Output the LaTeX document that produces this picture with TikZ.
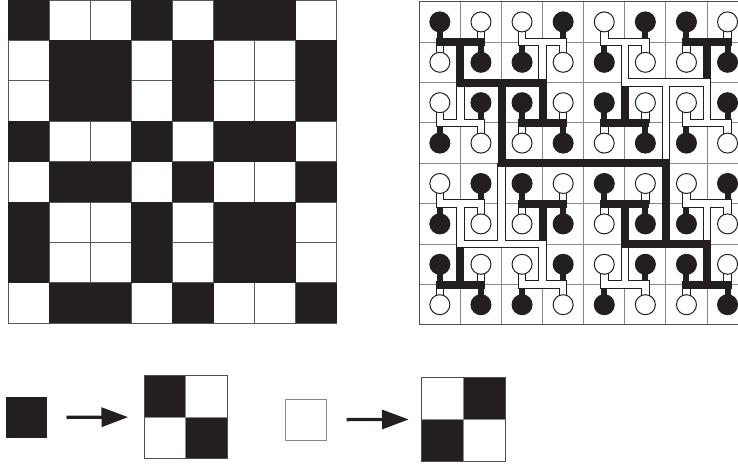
\documentclass[tikz,border=0pt]{standalone}
\usetikzlibrary{arrows.meta}
\definecolor{ink}{HTML}{231F20}
\definecolor{rule}{HTML}{8A8A8A}
\tikzset{
  cellline/.style={line width=0.9pt, ink!75},
  boardline/.style={line width=0.9pt, rule},
  wout/.style={line width=8.5pt, ink},
  wfill/.style={line width=6.5pt, white},
  bstem/.style={line width=6pt, ink, line cap=rect},
  bwire/.style={line width=8pt, ink, line cap=rect},
  tile/.style={minimum size=41pt, inner sep=0pt, line width=1pt},
  quad/.style={minimum size=83pt, inner sep=0pt},
  arr/.style={line width=3.3pt, ink, -{Triangle[length=26.6pt,width=19pt]}}
}
\begin{document}
\begin{tikzpicture}[x=1pt,y=-1pt]
\useasboundingbox (0,0) rectangle (738,463);
\clip (0,0) rectangle (738,463);

% left board
\begin{scope}[xshift=8pt, x=41.1pt, y=-40.4pt]
\foreach \i in {0,...,8} {
  \draw[cellline] (\i,0) -- (\i,8);
  \draw[cellline] (0,\i) -- (8,\i);
}
\foreach \r in {0,...,7} \foreach \c in {0,...,7} {
  \pgfmathtruncatemacro\k{mod(\r+floor(\r/2)+floor(\r/4)+\c+floor(\c/2)+floor(\c/4),2)}
  \ifnum\k=0 \fill[ink] (\c,\r) rectangle ++(1,1); \fi
}
\end{scope}

% right board with the wires
\begin{scope}[xshift=419.3pt, yshift=-1.7pt, x=41.1pt, y=-40.4pt]
\foreach \i in {0,...,8} {
  \draw[boardline] (\i,0) -- (\i,8);
  \draw[boardline] (0,\i) -- (8,\i);
}
\draw[line width=1pt, ink!80] (0,0) rectangle (8,8);
% white wires: outline first, then inside
\foreach \sty in {wout,wfill} {
  \foreach \r in {0,...,7} \foreach \c in {0,...,7} {
    \pgfmathtruncatemacro\k{mod(\r+floor(\r/2)+floor(\r/4)+\c+floor(\c/2)+floor(\c/4),2)}
    \pgfmathtruncatemacro\yb{2*floor(\r/2)+1}
    \ifnum\k=1 \draw[\sty] (\c+.5,\r+.5) -- (\c+.5,\yb); \fi
  }
  \foreach \R in {0,...,3} \foreach \C in {0,...,3} {
    \pgfmathtruncatemacro\k{mod(\R+floor(\R/2)+\C+floor(\C/2),2)}
    \pgfmathtruncatemacro\d{1-2*mod(\R,2)}
    \ifnum\k=1
      \draw[\sty] (2*\C+1,2*\R+1) -- ++(0,\d);
      \draw[\sty, line cap=rect] (2*\C+.5,2*\R+1) -- (2*\C+1.5,2*\R+1);
    \fi
  }
  \draw[\sty, line cap=rect] (5,2) -- (7,2);
  \draw[\sty] (6,2) -- (6,4);
  \draw[\sty, line cap=rect] (1,6) -- (3,6);
  \draw[\sty] (2,6) -- (2,4);
}
% black wires
\foreach \r in {0,...,7} \foreach \c in {0,...,7} {
  \pgfmathtruncatemacro\k{mod(\r+floor(\r/2)+floor(\r/4)+\c+floor(\c/2)+floor(\c/4),2)}
  \pgfmathtruncatemacro\K{mod(floor(\r/2)+floor(\r/4)+floor(\c/2)+floor(\c/4),2)}
  \pgfmathtruncatemacro\yb{2*floor(\r/2)+1}
  \ifnum\K=0 \def\sh{0pt}\else \def\sh{7pt}\fi
  \ifnum\k=0 \draw[bstem, shorten >=\sh] (\c+.5,\r+.5) -- (\c+.5,\yb); \fi
}
\foreach \R in {0,...,3} \foreach \C in {0,...,3} {
  \pgfmathtruncatemacro\k{mod(\R+floor(\R/2)+\C+floor(\C/2),2)}
  \pgfmathtruncatemacro\d{1-2*mod(\R,2)}
  \pgfmathtruncatemacro\P{floor(\R/2)}
  \pgfmathtruncatemacro\Q{floor(\C/2)}
  \ifnum\P=\Q \def\sh{0pt}\else \def\sh{8pt}\fi
  \ifnum\k=0
    \draw[bwire, shorten >=\sh] (2*\C+1,2*\R+1) -- ++(0,\d);
    \draw[bwire] (2*\C+.5,2*\R+1) -- (2*\C+1.5,2*\R+1);
  \fi
}
\draw[bwire] (1,2) -- (3,2);
\draw[bwire] (2,2) -- (2,4);
\draw[bwire] (5,6) -- (7,6);
\draw[bwire] (6,6) -- (6,4);
\draw[bwire] (2,4) -- (6,4);
% the pins
\foreach \r in {0,...,7} \foreach \c in {0,...,7} {
  \pgfmathtruncatemacro\k{mod(\r+floor(\r/2)+floor(\r/4)+\c+floor(\c/2)+floor(\c/4),2)}
  \ifnum\k=0
    \draw[line width=1pt, ink, fill=ink] (\c+.5,\r+.5) circle[radius=10pt];
  \else
    \draw[line width=1pt, ink, fill=white] (\c+.5,\r+.5) circle[radius=10pt];
  \fi
}
\end{scope}

% substitution rules
\node[tile, fill=ink] (blk) at (26,417.5) {};
\node[quad] (blkq) at (185.8,416.9) {};
\fill[ink] (blkq.north west) rectangle (blkq.center);
\fill[ink] (blkq.center) rectangle (blkq.south east);
\draw[line width=0.8pt, rule] (blkq.north) -- (blkq.south) (blkq.west) -- (blkq.east);
\draw[line width=1pt, ink!80] (blkq.north west) rectangle (blkq.south east);

\node[tile, draw=rule, fill=white] (wht) at (306.2,419.7) {};
\node[quad] (whtq) at (463.3,419.3) {};
\fill[ink] (whtq.north) rectangle (whtq.east);
\fill[ink] (whtq.west) rectangle (whtq.south);
\draw[line width=0.8pt, rule] (whtq.north) -- (whtq.south) (whtq.west) -- (whtq.east);
\draw[line width=1pt, ink!80] (whtq.north west) rectangle (whtq.south east);

\draw[arr, shorten <=19.5pt, shorten >=16pt] (blk) -- (blkq);
\draw[arr, shorten <=19.3pt, shorten >=13pt] (wht) -- (whtq);
\end{tikzpicture}
\end{document}
